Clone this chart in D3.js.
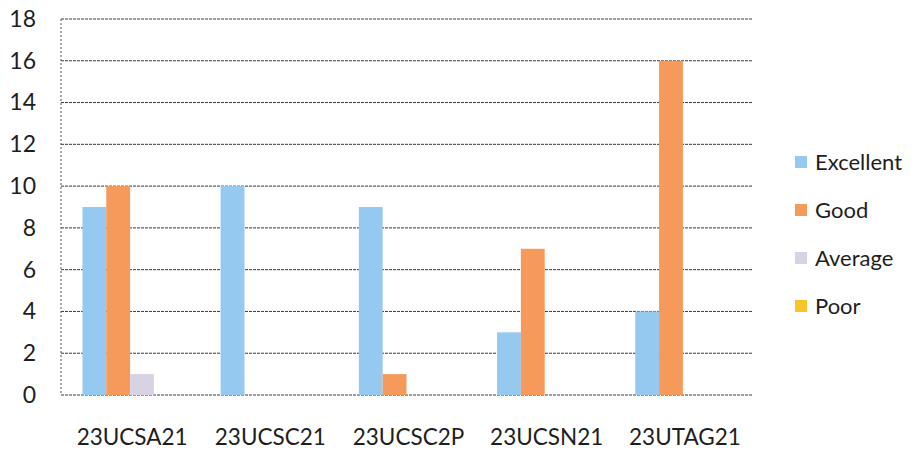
<!DOCTYPE html>
<html><head><meta charset="utf-8">
<script src="https://cdn.jsdelivr.net/npm/d3@7"></script>
<style>body{margin:0;background:#fff;} text{font-family:Lato,"Open Sans",sans-serif;fill:#1e1e1e;}</style>
</head><body>
<svg id="c" width="917" height="455"></svg>
<script>
const categories = ["23UCSA21","23UCSC21","23UCSC2P","23UCSN21","23UTAG21"];
const seriesNames = ["Excellent","Good","Average","Poor"];
const excellent = [9,10,9,3,4];
const good = [10,0,1,7,16];
const average = [1,0,0,0,0];
const poor = [0,0,0,0,0];
const yTicks = [0,2,4,6,8,10,12,14,16,18];
const colors = ["#96c9ef","#f59a5a","#d9d2e2","#f7c52a"];

(function(){
const seriesValues = [excellent, good, average, poor];
const svg = d3.select("#c");
const pL = 61, pR = 752, pT = 19, pB = 395;
const x0 = d3.scaleBand().domain(categories).range([pL, pR]).padding(0);
const x1 = d3.scaleBand().domain(seriesNames).range([0, x0.bandwidth()]).paddingInner(0).paddingOuter(0.9);
const y = d3.scaleLinear().domain([0,18]).range([pB, pT]);

svg.append("g").selectAll("line").data(yTicks).join("line")
  .attr("x1", pL).attr("x2", pR)
  .attr("y1", d=>y(d)).attr("y2", d=>y(d))
  .attr("stroke", "#3a3a3a").attr("stroke-width", 1).attr("stroke-dasharray","3,1");
svg.append("line").attr("x1",pL).attr("x2",pL).attr("y1",pT).attr("y2",pB)
  .attr("stroke","#555").attr("stroke-width",1).attr("stroke-dasharray","2,2");

const yAxis = d3.axisLeft(y).tickValues(yTicks).tickSize(0).tickPadding(0);
const ga = svg.append("g").attr("transform", `translate(${36},0)`).call(yAxis);
ga.select(".domain").remove();
ga.selectAll("text").style("font-size","23px").attr("fill","#1e1e1e").style("font-family","Lato,'Open Sans',sans-serif");

const groups = svg.append("g").selectAll("g").data(categories).join("g")
  .attr("transform", d=>`translate(${x0(d)},0)`);
groups.selectAll("rect").data((c,i)=>seriesNames.map((s,j)=>({s, v: seriesValues[j][i], j})))
  .join("rect")
  .attr("x", d=>x1(d.s)).attr("width", x1.bandwidth())
  .attr("y", d=>y(d.v)).attr("height", d=>y(0)-y(d.v))
  .attr("fill", d=>colors[d.j]);

const xAxis = d3.axisBottom(x0).tickSize(0).tickPadding(0);
const gx = svg.append("g").attr("transform", `translate(2,${445})`).call(xAxis);
gx.select(".domain").remove();
gx.selectAll("text").attr("dy", 0).style("font-size","22.5px").attr("fill","#1e1e1e").style("font-family","Lato,'Open Sans',sans-serif");

const lg = svg.append("g");
const ly = [162,210,258,306];
seriesNames.forEach((s,i)=>{
  lg.append("rect").attr("x",795).attr("y",ly[i]-6).attr("width",12).attr("height",12).attr("fill",colors[i]);
  lg.append("text").attr("x",815).attr("y",ly[i]).attr("dy","0.35em").style("font-size","22px").text(s);
});
})();
</script>
</body></html>
